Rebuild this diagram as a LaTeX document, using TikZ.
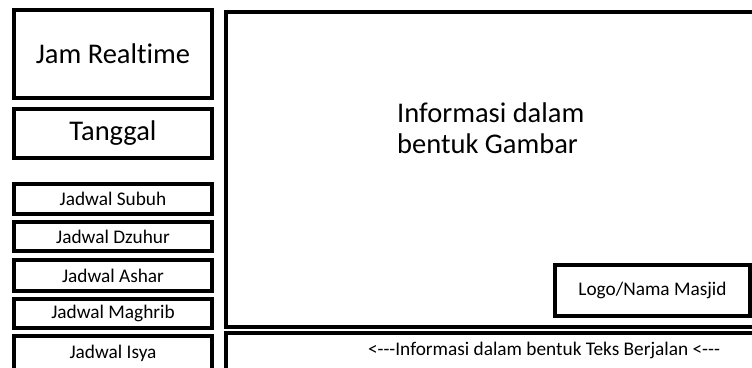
\documentclass[tikz,border=0pt]{standalone}
\usepackage{fontspec}
\setmainfont{Carlito}[Ligatures=NoCommon]
\usetikzlibrary{positioning}
\tikzstyle{panel} = [rectangle, draw=black, line width=4pt, inner sep=0pt, text centered]
\tikzstyle{bigbox} = [panel, minimum width=198pt, font=\fontsize{28.5}{31}\selectfont]
\tikzstyle{jadwal} = [panel, minimum width=198pt, minimum height=30pt, font=\fontsize{19.3}{22}\selectfont]
\newcommand{\arrowtext}{<-\kern0pt-\kern0pt-}

\begin{document}
\begin{tikzpicture}[x=1pt, y=-1pt]

    \clip (0,0) rectangle (752,367);

    % Left column
    \node (jam) [bigbox, minimum height=88pt] at (113,53.5) {Jam Realtime};
    \node (tanggal) [bigbox, minimum height=49pt] at (113,133.5) {Tanggal};
    \node (subuh) [jadwal] at (113,199) {Jadwal Subuh};
    \node (dzuhur) [jadwal, minimum height=29pt] at (113,236.5) {Jadwal Dzuhur};
    \node (ashar) [jadwal, minimum height=31pt] at (113,275.5) {Jadwal Ashar};
    \node (maghrib) [jadwal, minimum height=29pt] at (113,313.5) {Jadwal Maghrib};
    \node (isya) [jadwal, minimum height=34pt] at (113,353) {Jadwal Isya};

    % Right panels
    \node (gambar) [panel, minimum width=540pt, minimum height=315pt, anchor=north west] at (224,9.5) {};
    \node (teks) [panel, minimum width=540pt, minimum height=50pt, anchor=north west] at (224,330.5) {};
    \node (info) [anchor=base west, align=left, inner sep=0pt, font=\fontsize{28.5}{31}\selectfont] at (397,153) {Informasi dalam\\bentuk Gambar};
    \node (logo) [panel, minimum width=195pt, minimum height=51pt, font=\fontsize{19.3}{22}\selectfont] at (652.5,290.5) {Logo/Nama Masjid};
    \node (berjalan) [font=\fontsize{19.3}{22}\selectfont] at (544,350) {\arrowtext Informasi dalam bentuk Teks Berjalan \arrowtext};

\end{tikzpicture}
\end{document}
